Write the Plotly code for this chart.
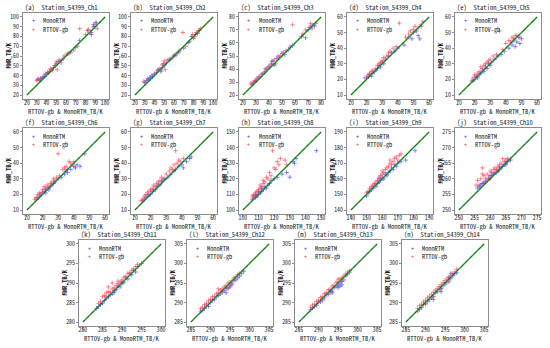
import plotly.graph_objects as go

W, H = 550, 348

channels = ["Ch1", "Ch2", "Ch3", "Ch4", "Ch5", "Ch6", "Ch7",
            "Ch8", "Ch9", "Ch10", "Ch11", "Ch12", "Ch13", "Ch14"]
letters = ["a", "b", "c", "d", "e", "f", "g", "h", "i", "j", "k", "l", "m", "n"]
tick_lo = [20, 20, 20, 10, 10, 10, 10, 100, 140, 250, 280, 285, 285, 285]
tick_hi = [100, 100, 80, 60, 60, 60, 60, 150, 190, 275, 300, 305, 305, 305]
tick_step = [10, 10, 10, 10, 10, 10, 10, 10, 10, 5, 5, 5, 5, 5]

# ---- data: (MonoRTM x, MonoRTM y, RTTOV-gb x, RTTOV-gb y) per channel ----
ch1_mono_x = [31,33,34,36,38,40,41,43,45,47,49,50,52,54,57,62,65,70,74,82,85,86,88,89,91]
ch1_mono_y = [36,35,37,38,39,41,43,44,46,48,50,52,54,55,57,62,64,69,76,86,84,82,92,90,94]
ch1_rttov_x = [30,32,35,37,39,42,44,46,48,50,51,53,55,58,61,63,68,72,74,80,83,86,88,90,92]
ch1_rttov_y = [35,37,36,39,42,43,47,45,50,54,46,56,53,60,62,63,66,70,88,82,87,84,90,94,88]

ch2_mono_x = [30,32,34,36,38,40,42,44,46,48,49,50,52,55,58,60,62,65,70,75,78,80,82,84,86]
ch2_mono_y = [33,35,36,37,39,41,43,46,45,48,52,50,53,56,58,60,61,64,68,74,80,78,82,83,86]
ch2_rttov_x = [29,31,33,35,37,40,43,45,47,48,50,51,53,56,60,63,66,69,72,76,79,81,83,85,87]
ch2_rttov_y = [34,33,37,38,40,42,45,47,44,51,55,46,56,57,61,63,66,84,70,75,82,80,84,86,88]

ch3_mono_x = [27,28,29,30,31,33,35,37,38,40,42,43,44,46,48,50,52,55,58,65,68,70,72,74,75]
ch3_mono_y = [28,29,30,31,33,34,36,38,40,42,44,46,43,48,49,52,51,55,58,65,64,70,72,74,73]
ch3_rttov_x = [26,28,29,31,32,34,36,37,39,41,42,44,45,47,49,51,53,56,58,66,68,71,72,73,76]
ch3_rttov_y = [29,30,31,32,34,36,37,40,41,43,46,47,44,50,50,53,54,57,74,67,70,72,75,71,75]

ch4_mono_x = [20,21,22,23,24,25,26,27,28,29,30,31,32,34,36,38,40,44,47,49,50,52,53,54,55]
ch4_mono_y = [21,22,23,22,24,25,26,27,29,28,31,30,33,35,37,38,40,42,47,46,50,51,48,46,54]
ch4_rttov_x = [19,21,22,23,24,26,27,28,29,30,31,33,34,35,37,39,41,45,47,48,50,51,53,55,56]
ch4_rttov_y = [21,23,24,25,26,27,29,30,31,32,34,35,37,38,40,41,56,47,49,51,52,54,53,55,57]

ch5_mono_x = [19,20,21,22,23,24,25,26,27,28,29,30,31,33,35,37,39,42,44,45,46,47,48,49,50]
ch5_mono_y = [19,20,22,21,23,24,26,25,28,27,30,29,31,33,35,36,38,40,42,45,41,44,47,43,46]
ch5_rttov_x = [18,19,20,21,22,23,24,25,26,27,28,29,30,32,34,36,38,40,42,43,44,45,46,47,49]
ch5_rttov_y = [19,21,23,22,24,25,28,27,29,30,31,32,33,35,36,51,39,43,45,44,47,46,48,48,47]

ch6_mono_x = [16,17,18,19,20,21,22,22,23,24,25,26,27,28,30,32,34,35,36,38,40,41,42,44,47]
ch6_mono_y = [17,18,19,20,21,22,21,23,24,23,25,26,27,28,30,31,33,35,34,36,38,37,39,38,46]
ch6_rttov_x = [15,16,17,18,19,20,21,22,23,24,25,26,27,28,29,30,31,33,34,35,36,37,38,39,40]
ch6_rttov_y = [17,18,20,21,21,23,25,24,26,25,27,28,30,29,31,46,32,36,37,38,36,41,40,39,41]

ch7_mono_x = [15,16,17,18,19,20,21,22,23,24,25,26,27,28,29,31,33,35,36,38,40,41,43,45,46]
ch7_mono_y = [16,17,18,19,20,20,22,23,23,25,26,26,28,29,30,31,33,35,36,38,39,37,41,43,44]
ch7_rttov_x = [14,15,16,17,18,19,20,21,22,23,24,25,26,27,28,30,32,33,34,35,36,37,38,39,41]
ch7_rttov_y = [16,17,19,20,21,22,23,24,26,25,27,28,29,31,30,33,35,37,36,39,48,40,42,41,43]

ch8_mono_x = [106,107,108,108,109,110,110,111,112,112,113,114,115,116,117,118,120,122,125,128,130,132,133,134,147]
ch8_mono_y = [107,109,108,110,109,110,112,111,112,114,113,115,114,116,117,119,120,121,123,124,121,131,130,133,138]
ch8_rttov_x = [106,107,107,108,109,109,110,111,111,112,113,113,114,115,116,117,118,119,120,121,122,123,124,127,128]
ch8_rttov_y = [109,108,110,111,112,110,113,114,116,115,117,119,118,121,120,124,122,138,127,126,131,129,133,132,129]

ch9_mono_x = [150,151,152,153,154,155,156,157,158,158,159,160,161,162,163,164,165,166,167,168,169,170,172,175,181]
ch9_mono_y = [149,151,152,153,154,156,155,157,158,160,159,161,160,163,162,164,165,167,166,169,168,170,171,172,178]
ch9_rttov_x = [150,151,152,153,154,155,156,157,158,159,160,160,161,162,163,164,165,165,166,167,168,169,170,171,172]
ch9_rttov_y = [151,152,154,155,156,157,158,159,161,162,163,165,164,166,167,168,170,172,169,171,173,174,172,175,176]

ch10_mono_x = [256,256.5,257,257.5,258,258.5,259,259.5,260,260,260.5,261,261.5,262,262.5,263,263,263.5,264,264.5,265,265,265.5,266,266.5]
ch10_mono_y = [257,257.5,258,258.5,258.5,259,259.5,260,260,261,261,261.5,262,262,262.5,263,263.5,263.5,264,264.5,264.5,265,265.5,266,266]
ch10_rttov_x = [255.5,256,256.5,257,257.5,258,258,258.5,259,259.5,260,260.5,261,261,261.5,262,262.5,263,263.5,264,264.5,265,265.5,257.5,262]
ch10_rttov_y = [258,259.5,258,260,263.5,259,261,260,261.5,260.5,262.5,262,263,261.5,263.5,262.5,264,264.5,265,266.5,265.5,266,266.5,261.5,263]

ch11_mono_x = [283.5,284,284.5,285,285.5,286,286.5,287,287.5,288,288,288.5,289,289.5,290,290,290.5,291,291.5,292,292.5,293,293.5,294,295]
ch11_mono_y = [283.5,284,284.5,284.8,285.5,286.2,286.4,287,287.2,288.1,287.6,288.3,289.2,289,290.3,289.8,290.2,291.3,291,292.3,292.1,293.2,292.8,294.2,295]
ch11_rttov_x = [284,284.5,285,285.5,286,286,286.5,287,287.5,288,288.5,289,289,289.5,290,290.5,291,291.5,292,292.5,293,293.5,294,286.5,287.5]
ch11_rttov_y = [284.8,285.3,286.5,286.8,287.5,286.5,287.8,287.6,288.5,288.8,289.4,289.8,290.5,290.2,290.8,291.5,291.7,292.5,292.6,293.3,293.6,294.2,294.8,289,290]

ch12_mono_x = [287.5,288,288.5,289,289.5,290,290.5,291,291.5,292,292.5,293,293.5,294,294.5,295,295,295.5,296,296.5,297,297.5,298,298.5,294]
ch12_mono_y = [287.8,288,288.5,289.2,289,290,290.6,290.8,291.5,291.8,292.2,292.9,293,293.6,293.8,294.5,294,294.8,295.6,295.8,296.3,296.8,297.5,298,292.5]
ch12_rttov_x = [287.5,288,288.5,289,289.5,290,290.5,291,291.5,292,292.5,293,293.5,294,294.5,295,295.5,296,296.5,297,297.5,292,293,294.5,295.5]
ch12_rttov_y = [288.5,288.8,289.5,289.8,290.5,290.8,291.5,291.6,292.3,292.5,293.2,293.5,294,294.4,295,295.2,295.6,296.3,296.6,297.2,297.5,293.5,292.5,293.5,294.5]

ch13_mono_x = [288,288.5,289,289.5,290,290.5,291,291.5,292,292.5,293,293.5,294,294.5,295,295,295.5,296,296,296.5,297,297.5,298,293.5,295.5]
ch13_mono_y = [288.2,288.6,289,289.3,290.1,290.2,290.9,291.2,292,292.1,293,292.9,293.8,294.2,294.5,293.8,295,295.4,294.5,295.8,296.8,297.3,297.8,292.5,294.2]
ch13_rttov_x = [288,288.5,289,289.5,290,290.5,291,291.5,292,292.5,293,293.5,294,294.5,295,295.5,296,296.5,297,297.5,298,291,293,295,296]
ch13_rttov_y = [288.8,289.4,289.6,290.3,290.6,291.3,291.5,292.3,292.5,293.3,293.4,294.2,294.4,295.2,295.2,296,296.3,296.8,297.3,297.8,298.2,290.5,292.5,296,295.5]

ch14_mono_x = [288,288.5,289,289.5,290,290.5,291,291.5,292,292.5,293,293.5,294,294.5,295,295.5,296,296,296.5,297,297.5,298,292,294,296.5]
ch14_mono_y = [287.8,288.3,288.7,289.5,289.8,290.3,290.7,291.2,291.6,292.5,292.7,293.4,293.6,294.3,294.7,295.2,295.8,296.5,296.2,296.8,297.4,297.6,290.8,292.8,297.5]
ch14_rttov_x = [288,288.5,289,289.5,290,290.5,291,291.5,292,292.5,293,293.5,294,294.5,295,295.5,296,296.5,297,297.5,290,292,294,296,298]
ch14_rttov_y = [288.5,289.2,289.6,290.2,290.6,291.2,291.6,292.1,292.6,293.2,293.5,294.1,294.6,295.1,295.6,296,296.4,297,297.4,297.8,289.5,291.5,293.5,295.3,298.5]

mono_x = [ch1_mono_x, ch2_mono_x, ch3_mono_x, ch4_mono_x, ch5_mono_x, ch6_mono_x, ch7_mono_x,
          ch8_mono_x, ch9_mono_x, ch10_mono_x, ch11_mono_x, ch12_mono_x, ch13_mono_x, ch14_mono_x]
mono_y = [ch1_mono_y, ch2_mono_y, ch3_mono_y, ch4_mono_y, ch5_mono_y, ch6_mono_y, ch7_mono_y,
          ch8_mono_y, ch9_mono_y, ch10_mono_y, ch11_mono_y, ch12_mono_y, ch13_mono_y, ch14_mono_y]
rttov_x = [ch1_rttov_x, ch2_rttov_x, ch3_rttov_x, ch4_rttov_x, ch5_rttov_x, ch6_rttov_x, ch7_rttov_x,
           ch8_rttov_x, ch9_rttov_x, ch10_rttov_x, ch11_rttov_x, ch12_rttov_x, ch13_rttov_x, ch14_rttov_x]
rttov_y = [ch1_rttov_y, ch2_rttov_y, ch3_rttov_y, ch4_rttov_y, ch5_rttov_y, ch6_rttov_y, ch7_rttov_y,
           ch8_rttov_y, ch9_rttov_y, ch10_rttov_y, ch11_rttov_y, ch12_rttov_y, ch13_rttov_y, ch14_rttov_y]

# ---- layout geometry (pixels) ----
FW, FH = 86, 86
row_tops = [13, 128, 240]
cols_r12 = [23, 131, 239, 347, 455]
cols_r3 = [79, 187, 295, 402]
frames = []
for r in range(2):
    for c in cols_r12:
        frames.append((c, row_tops[r]))
for c in cols_r3:
    frames.append((c, row_tops[2]))

MONO = "'Noto Sans Mono CJK SC', 'DejaVu Sans Mono', monospace"
TXT = "#222222"
FRAME = "#8c8c8c"

fig = go.Figure()
layout_axes = {}
annotations = []

for i in range(14):
    k = i + 1
    sx = "" if k == 1 else str(k)
    left, top = frames[i]
    lo, hi, st = tick_lo[i], tick_hi[i], tick_step[i]
    pad = 0.05 * (hi - lo)
    ticks = list(range(lo, hi + 1, st))
    common = dict(range=[lo - pad, hi + pad], tickvals=ticks, showline=True, mirror=True,
                  linecolor=FRAME, linewidth=1, ticks="outside", ticklen=2, tickcolor=FRAME,
                  tickfont=dict(size=5.8, family=MONO, color=TXT), showgrid=False,
                  zeroline=False, fixedrange=True)
    layout_axes["xaxis" + sx] = dict(domain=[left / W, (left + FW) / W], anchor="y" + sx,
                                     ticklabelstandoff=-4, **common)
    layout_axes["yaxis" + sx] = dict(domain=[1 - (top + FH) / H, 1 - top / H], anchor="x" + sx,
                                     ticklabelstandoff=0, **common)

    fig.add_trace(go.Scatter(x=mono_x[i], y=mono_y[i], mode="markers", xaxis="x" + sx, yaxis="y" + sx,
                             name="MonoRTM", showlegend=False,
                             marker=dict(symbol="cross-thin", size=3.2,
                                         line=dict(width=0.8, color="rgba(60,60,255,0.75)"))))
    fig.add_trace(go.Scatter(x=rttov_x[i], y=rttov_y[i], mode="markers", xaxis="x" + sx, yaxis="y" + sx,
                             name="RTTOV-gb", showlegend=False,
                             marker=dict(symbol="cross-thin", size=3.2,
                                         line=dict(width=0.8, color="rgba(255,60,80,0.75)"))))
    fig.add_trace(go.Scatter(x=[lo, hi], y=[lo, hi], mode="lines", xaxis="x" + sx, yaxis="y" + sx,
                             showlegend=False, line=dict(color="#1a9a1a", width=1.4)))
    fig.add_trace(go.Scatter(x=[lo, hi], y=[lo, hi], mode="lines", xaxis="x" + sx, yaxis="y" + sx,
                             showlegend=False, line=dict(color="#203020", width=0.5, dash="dot")))

    # panel title
    annotations.append(dict(text=f"({letters[i]})\u00a0\u00a0Station_54399_{channels[i]}",
                            xref="paper", yref="paper", x=(left + 1) / W, y=1 - (top - 0.5) / H,
                            xanchor="left", yanchor="bottom", showarrow=False, borderpad=0,
                            font=dict(size=6.6, family=MONO, color=TXT)))
    # x label
    annotations.append(dict(text="RTTOV-gb & MonoRTM_TB/K", xref="paper", yref="paper",
                            x=(left + FW / 2) / W, y=1 - (top + FH + 12) / H,
                            xanchor="center", yanchor="middle", showarrow=False, borderpad=0,
                            font=dict(size=6.5, family=MONO, color=TXT)))
    # y label
    annotations.append(dict(text="<b>MWR_TB/K</b>", xref="paper", yref="paper",
                            x=(left - 15.5) / W, y=1 - (top + FH / 2) / H, textangle=-90,
                            xanchor="center", yanchor="middle", showarrow=False, borderpad=0,
                            font=dict(size=6.4, family=MONO, color=TXT)))
    # legend
    for j, (lab, col) in enumerate([("MonoRTM", "rgb(60,60,255)"), ("RTTOV-gb", "rgb(255,60,80)")]):
        yy = 1 - (top + 8 + 8.5 * j) / H
        annotations.append(dict(text="+", xref="paper", yref="paper", x=(left + 10) / W, y=yy,
                                xanchor="center", yanchor="middle", showarrow=False, borderpad=0,
                                font=dict(size=6, family=MONO, color=col)))
        annotations.append(dict(text=lab, xref="paper", yref="paper", x=(left + 19) / W, y=yy,
                                xanchor="left", yanchor="middle", showarrow=False, borderpad=0,
                                font=dict(size=6.3, family=MONO, color=TXT)))

fig.update_layout(width=W, height=H, margin=dict(l=0, r=0, t=0, b=0),
                  paper_bgcolor="white", plot_bgcolor="white", showlegend=False,
                  annotations=annotations, **layout_axes)

fig.write_html("out.html", config={"displayModeBar": False},
               post_script="document.body.style.margin='0px';")
